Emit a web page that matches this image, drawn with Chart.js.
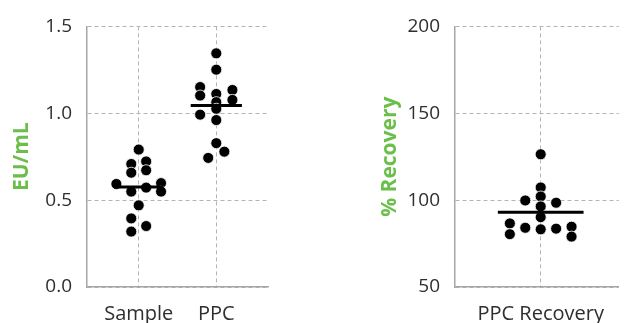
<!DOCTYPE html>
<html>
<head>
<meta charset="utf-8">
<script src="https://cdn.jsdelivr.net/npm/chart.js@4"></script>
<style>
  html, body { margin: 0; padding: 0; background: #ffffff; }
  #wrap { position: relative; width: 625px; height: 323px; overflow: hidden; }
  #left { position: absolute; left: 0; top: 0; }
  #right { position: absolute; left: 360px; top: 0; }
</style>
</head>
<body>
<div id="wrap">
  <canvas id="left" width="280" height="323"></canvas>
  <canvas id="right" width="265" height="323"></canvas>
</div>
<script>
// ---------- DATA ----------
const leftCategories = ['Sample', 'PPC'];
const leftAxisTitle = 'EU/mL';
const leftTickValues = [0, 0.5, 1.0, 1.5];

const sampleValues = [0.791, 0.708, 0.723, 0.658, 0.672, 0.593, 0.549, 0.572, 0.598, 0.549, 0.470, 0.395, 0.351, 0.319];
const sampleSwarmSlot = [0, -1, 1, -1, 1, -3, -1, 1, 3, 3, 0, -1, 1, -1];
const ppcValues = [1.345, 1.251, 1.151, 1.134, 1.102, 1.111, 1.077, 1.064, 1.026, 0.992, 0.961, 0.828, 0.779, 0.743];
const ppcSwarmSlot = [0, 0, -2, 2, -2, 0, 2, 0, 0, -2, 0, 0, 1, -1];
const leftMeans = [0.575, 1.044];

const rightCategories = ['PPC Recovery'];
const rightAxisTitle = '% Recovery';
const rightTickValues = [50, 100, 150, 200];
const recoveryValues = [126.4, 107.3, 102.1, 99.8, 98.5, 96.4, 90.2, 86.6, 84.1, 83.2, 83.6, 84.7, 80.4, 79.0];
const recoverySwarmSlot = [0, 0, 0, -1, 1, 0, 0, -2, -1, 0, 1, 2, -2, 2];
const rightMeans = [93.0];

// ---------- STYLE ----------
const FONT = "'Open Sans', 'Noto Sans', sans-serif";
const TICK_COLOR = '#2e2e2e';
const TITLE_COLOR = '#6abf4b';
const GRID_COLOR = '#b4b4b4';
const AXIS_COLOR = '#a6a6a6';

Chart.defaults.font.family = FONT;
Chart.defaults.animation = false;

function swarmPoints(values, slots, catIndex, slotUnit) {
  return values.map((v, i) => ({ x: catIndex + slots[i] * slotUnit, y: v }));
}
function meanLine(mean, catIndex, halfWidth) {
  return [{ x: catIndex - halfWidth, y: mean }, { x: catIndex + halfWidth, y: mean }];
}
function lineDs(data) {
  return { type: 'line', data, borderColor: '#000', borderWidth: 3, pointRadius: 0, fill: false, showLine: true };
}
function dotDs(data) {
  return { type: 'scatter', data, backgroundColor: '#000', pointRadius: 5.5, pointBorderColor: '#ffffff', pointBorderWidth: 0.8, pointHoverRadius: 5.5 };
}

function makeChart(canvasId, cfg) {
  const catPos = cfg.categories.map((c, i) => i + 1);
  return new Chart(document.getElementById(canvasId), {
    data: { datasets: cfg.datasets },
    options: {
      responsive: false,
      devicePixelRatio: 1,
      layout: { padding: { top: 22, right: cfg.padRight, bottom: 0, left: 0 } },
      plugins: { legend: { display: false }, tooltip: { enabled: false } },
      scales: {
        x: {
          type: 'linear',
          min: cfg.xMin, max: cfg.xMax,
          afterBuildTicks: (s) => { s.ticks = catPos.map(v => ({ value: v })); },
          afterFit: (s) => { s.height = 36; },
          ticks: {
            padding: 15,
            color: TICK_COLOR,
            font: { size: 20 },
            autoSkip: false,
            maxRotation: 0,
            callback: (v) => cfg.categories[catPos.indexOf(v)] ?? ''
          },
          grid: { color: GRID_COLOR, lineWidth: 1, drawTicks: false },
          border: { display: true, color: AXIS_COLOR, width: 1.5, dash: [4, 3] }
        },
        y: {
          type: 'linear',
          min: cfg.tickValues[0], max: cfg.tickValues[cfg.tickValues.length - 1],
          afterBuildTicks: (s) => { s.ticks = cfg.tickValues.map(v => ({ value: v })); },
          afterFit: (s) => { s.width = cfg.yWidth; },
          ticks: {
            padding: 15,
            color: TICK_COLOR,
            font: { size: 19 },
            callback: cfg.tickFormat
          },
          grid: { color: GRID_COLOR, lineWidth: 1, drawTicks: false },
          border: { display: true, color: AXIS_COLOR, width: 1.5, dash: [4, 3] },
          title: {
            display: true,
            text: cfg.title,
            color: TITLE_COLOR,
            font: { size: 21, weight: 'bold' },
            padding: { top: cfg.titlePad, bottom: 0 }
          }
        }
      }
    }
  });
}

makeChart('left', {
  categories: leftCategories,
  title: leftAxisTitle,
  tickValues: leftTickValues,
  tickFormat: (v) => Number(v).toFixed(1),
  xMin: 1 / 3, xMax: 8 / 3,
  yWidth: 87, padRight: 12, titlePad: 9,
  datasets: [
    lineDs(meanLine(leftMeans[0], 1, 0.32)),
    lineDs(meanLine(leftMeans[1], 2, 0.33)),
    dotDs(swarmPoints(sampleValues, sampleSwarmSlot, 1, 0.096)),
    dotDs(swarmPoints(ppcValues, ppcSwarmSlot, 2, 0.104))
  ]
});

makeChart('right', {
  categories: rightCategories,
  title: rightAxisTitle,
  tickValues: rightTickValues,
  tickFormat: (v) => String(v),
  xMin: 0, xMax: 170 / 89,
  yWidth: 95, padRight: 0, titlePad: 17,
  datasets: [
    lineDs(meanLine(rightMeans[0], 1, 0.5)),
    dotDs(swarmPoints(recoveryValues, recoverySwarmSlot, 1, 0.18))
  ]
});
</script>
</body>
</html>
